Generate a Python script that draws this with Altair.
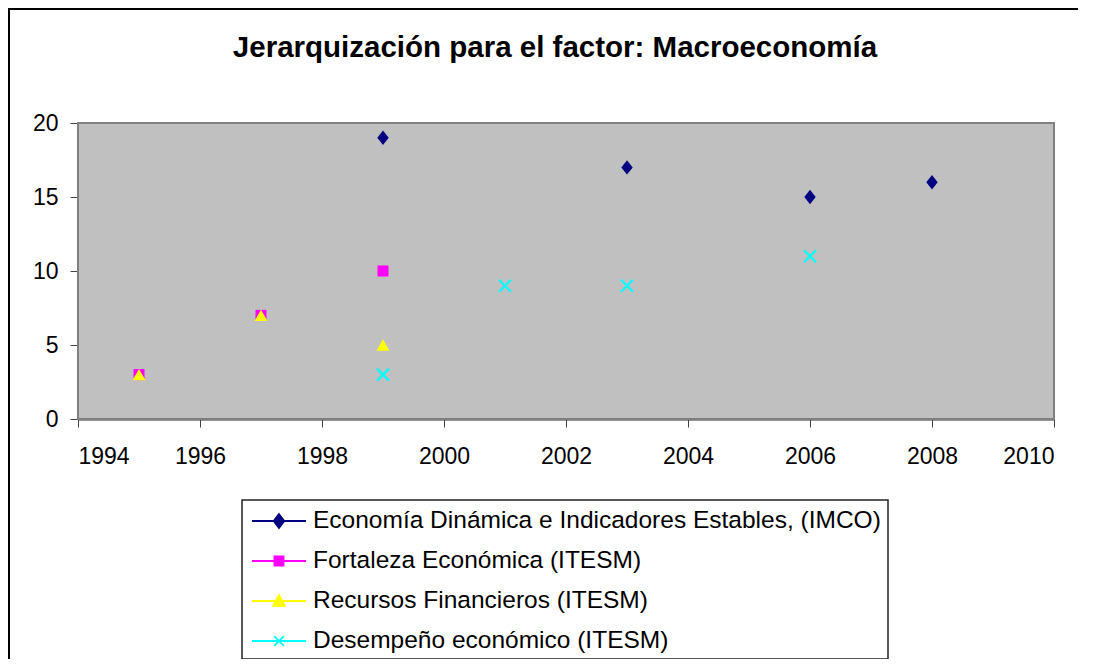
import altair as alt
import pandas as pd

# ---- data ----
series_names = [
    "Economía Dinámica e Indicadores Estables, (IMCO)",
    "Fortaleza Económica (ITESM)",
    "Recursos Financieros (ITESM)",
    "Desempeño económico (ITESM)",
]
imco_years = [1999, 2003, 2006, 2008]
imco_values = [19, 17, 15, 16]
fort_years = [1995, 1997, 1999]
fort_values = [3, 7, 10]
rec_years = [1995, 1997, 1999]
rec_values = [3, 7, 5]
des_years = [1999, 2001, 2003, 2006]
des_values = [3, 9, 9, 11]
x_ticks = [1994, 1996, 1998, 2000, 2002, 2004, 2006, 2008, 2010]
y_ticks = [0, 5, 10, 15, 20]
colors = ["#000080", "#FF00FF", "#FFFF00", "#00FFFF"]
title_text = "Jerarquización para el factor: Macroeconomía"

rows = []
for name, ys, vs in zip(series_names,
                        [imco_years, fort_years, rec_years, des_years],
                        [imco_values, fort_values, rec_values, des_values]):
    for yr, v in zip(ys, vs):
        rows.append({"series": name, "year": yr, "value": v})
df = pd.DataFrame(rows)

FONT = "Liberation Sans"

x_enc = alt.X("year:Q",
              scale=alt.Scale(domain=[1994, 2010], nice=False, zero=False),
              axis=alt.Axis(values=x_ticks, format="d", title=None, labelPadding=18))
y_enc = alt.Y("value:Q",
              scale=alt.Scale(domain=[0, 20], nice=False),
              axis=alt.Axis(values=y_ticks, title=None, labelPadding=12))

base = alt.Chart(df)

diamond_path = "M0,-1.2L0.95,0L0,1.2L-0.95,0Z"
xmark_path = "M-1,-1L1,1M-1,1L1,-1"

l1 = base.transform_filter(alt.datum.series == series_names[0]).mark_point(
    filled=True, shape=diamond_path, size=144, color=colors[0], opacity=1
).encode(x=x_enc, y=y_enc)
l2 = base.transform_filter(alt.datum.series == series_names[1]).mark_point(
    filled=True, shape="square", size=121, color=colors[1], opacity=1
).encode(x=x_enc, y=y_enc)
l3 = base.transform_filter(alt.datum.series == series_names[2]).mark_point(
    filled=True, shape="triangle-up", size=169, color=colors[2], opacity=1
).encode(x=x_enc, y=y_enc)
l4 = base.transform_filter(alt.datum.series == series_names[3]).mark_point(
    filled=False, shape=xmark_path, size=144, color=colors[3], strokeWidth=2.2, opacity=1
).encode(x=x_enc, y=y_enc)

legend_paths = [
    "M-2,0L2,0M0,-0.5L0.38,0L0,0.5L-0.38,0Z",
    "M-2,0L2,0M-0.33,-0.33L0.33,-0.33L0.33,0.33L-0.33,0.33Z",
    "M-2,0L2,0M0,-0.42L0.42,0.36L-0.42,0.36Z",
    "M-2,0L2,0M-0.36,-0.36L0.36,0.36M-0.36,0.36L0.36,-0.36",
]

legend_obj = alt.Legend(
    title=None, orient="none", legendX=186.5, legendY=383.5, padding=0,
    labelFont=FONT, labelFontSize=24.5, labelColor="black", labelLimit=1000,
    labelOffset=19.5, rowPadding=14, symbolSize=729, symbolStrokeWidth=2,
    symbolOpacity=1,
)

leg = base.transform_filter("datum.value < 0").mark_point(filled=True, opacity=1).encode(
    fill=alt.Fill("series:N", scale=alt.Scale(domain=series_names, range=colors), legend=legend_obj),
    stroke=alt.Stroke("series:N", scale=alt.Scale(domain=series_names, range=colors), legend=legend_obj),
    shape=alt.Shape("series:N", scale=alt.Scale(domain=series_names, range=legend_paths), legend=legend_obj),
)

one = pd.DataFrame({"k": [0]})
frame = alt.Chart(one).mark_rect(fillOpacity=0, stroke="black", strokeWidth=2).encode(
    x=alt.value(-69), x2=alt.value(2000), y=alt.value(-114), y2=alt.value(2000))
plotbg = alt.Chart(one).mark_rect(fill="#C0C0C0", stroke="#808080", strokeWidth=2).encode(
    x=alt.value(0), x2=alt.value("width"), y=alt.value(0), y2=alt.value("height"))
legbox = alt.Chart(one).mark_rect(fill="white", stroke="#222222", strokeWidth=1.5).encode(
    x=alt.value(164), x2=alt.value(810), y=alt.value(377), y2=alt.value(536))
title_mark = alt.Chart(one).mark_text(
    font=FONT, fontSize=29.5, fontWeight="bold", color="black",
    align="center", baseline="alphabetic"
).encode(x=alt.value(477), y=alt.value(-66), text=alt.value(title_text))

chart = alt.layer(frame, plotbg, legbox, title_mark, l1, l2, l3, l4, leg).properties(
    width=976, height=296,
    autosize=alt.AutoSizeParams(type="none"),
    padding={"left": 70, "top": 115, "right": 24, "bottom": 240},
    background="white",
).configure_view(
    fill="#C0C0C0", stroke="#808080", strokeWidth=2
).configure_axis(
    domainColor="#333333", domainWidth=2, tickColor="#444444", tickSize=8,
    tickWidth=1, labelFont=FONT, labelFontSize=23, labelColor="black", grid=False,
    zindex=1
)

chart.save("out.html", embed_options={"renderer": "svg", "actions": False})
